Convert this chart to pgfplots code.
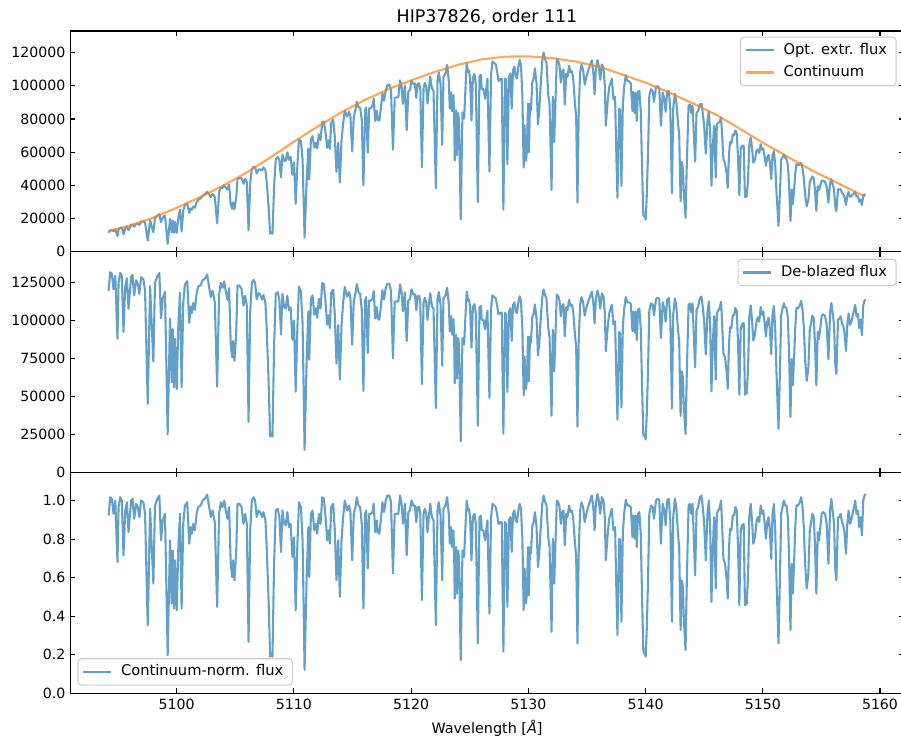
\documentclass[border=0pt]{standalone}
\usepackage{fontspec}
\setmainfont{DejaVu Sans}
\usepackage{pgfplots}
\usepackage{pgfplotstable}
\pgfplotsset{compat=1.18}
\definecolor{mplblue}{RGB}{31,119,180}
\definecolor{mplorange}{RGB}{255,127,14}
\definecolor{legendedge}{RGB}{204,204,204}

\pgfplotstableread{
x top mid norm
5094.19 11400 119300 0.922
5094.33 12900 131600 1.017
5094.47 13100 130500 1.009
5094.61 12300 120400 0.931
5094.76 13500 129200 1.000
5094.95 9500 87900 0.681
5095.04 13500 124700 0.966
5095.18 14500 131200 1.017
5095.32 14500 129000 1.000
5095.46 10600 92300 0.716
5095.61 14300 122200 0.948
5095.75 15200 127600 0.991
5095.89 13000 107600 0.836
5095.97 14100 115400 0.897
5096.12 16100 128600 1.000
5096.23 16400 129800 1.009
5096.37 15100 116300 0.905
5096.54 16800 126300 0.983
5096.68 16800 124000 0.966
5096.82 16200 117400 0.914
5096.96 18100 128300 1.000
5097.16 18300 127000 0.991
5097.30 17600 119400 0.931
5097.53 6800 45200 0.353
5097.73 19000 122500 0.957
5097.87 15300 97200 0.759
5098.01 11700 72800 0.569
5098.15 20500 124600 0.974
5098.35 21800 129000 1.009
5098.52 22700 131000 1.026
5098.66 17800 101300 0.793
5098.81 20500 114500 0.897
5099.00 21900 118700 0.931
5099.23 4800 25200 0.198
5099.43 19700 101000 0.793
5099.57 11700 59300 0.466
5099.66 18900 94300 0.741
5099.77 11400 56000 0.440
5099.85 18000 87800 0.690
5100.00 11400 54800 0.431
5100.14 20500 96500 0.759
5100.28 25500 118200 0.931
5100.42 12300 55900 0.440
5100.56 24900 111500 0.879
5100.70 28100 123500 0.974
5100.90 29100 125700 0.991
5101.07 23300 98300 0.776
5101.19 26200 109100 0.862
5101.30 25400 104800 0.828
5101.41 27300 111300 0.879
5101.55 26600 106900 0.845
5101.70 29800 117800 0.931
5101.84 31400 122100 0.966
5102.04 32200 123000 0.974
5102.21 33700 126300 1.000
5102.40 34700 127300 1.009
5102.60 36200 130000 1.031
5102.77 34500 121700 0.966
5102.91 33100 115200 0.914
5103.06 34800 119400 0.948
5103.25 33200 111700 0.888
5103.45 17100 56400 0.448
5103.62 36000 117000 0.931
5103.76 38800 124600 0.991
5103.91 38400 121300 0.966
5104.05 40200 125500 1.000
5104.19 38700 119000 0.948
5104.33 37400 113500 0.905
5104.47 40500 121100 0.966
5104.61 28500 84200 0.672
5104.73 25900 75600 0.603
5104.81 29800 86400 0.690
5104.93 25600 73400 0.586
5105.08 32800 92600 0.741
5105.19 43800 122900 0.983
5105.36 44500 122800 0.983
5105.53 44400 120600 0.966
5105.70 41000 109700 0.879
5105.84 43900 116100 0.931
5105.98 42000 109600 0.879
5106.13 12900 33300 0.267
5106.27 41400 105300 0.845
5106.41 49700 124600 1.000
5106.55 51200 126600 1.017
5106.69 50900 124500 1.000
5106.83 47200 113700 0.914
5106.98 49500 117900 0.948
5107.12 49700 116800 0.940
5107.29 49000 113600 0.914
5107.40 50900 116700 0.940
5107.57 49200 111400 0.897
5107.68 42000 94200 0.759
5107.83 28100 62100 0.500
5107.97 10800 23600 0.190
5108.05 11800 25700 0.207
5108.17 10900 23600 0.190
5108.31 39200 83300 0.672
5108.45 55800 117500 0.948
5108.62 57200 118500 0.957
5108.76 55200 113200 0.914
5108.90 44800 90700 0.733
5109.02 58500 117300 0.948
5109.16 54800 108600 0.879
5109.30 54900 107700 0.871
5109.44 59900 116100 0.940
5109.58 55400 106500 0.862
5109.72 57100 108500 0.879
5109.87 46400 87200 0.707
5110.01 53800 99900 0.810
5110.15 28900 53100 0.431
5110.29 51300 93500 0.759
5110.43 67700 122100 0.991
5110.60 66700 118900 0.966
5110.74 55300 97600 0.793
5110.91 8500 14900 0.121
5111.08 41700 72100 0.586
5111.23 62000 105900 0.862
5111.31 43500 74100 0.603
5111.45 67800 114300 0.931
5111.59 69700 116400 0.948
5111.74 62700 103700 0.845
5111.88 65700 107900 0.879
5111.99 62300 101600 0.828
5112.13 70700 114100 0.931
5112.27 67200 107800 0.879
5112.42 78400 124600 1.017
5112.56 78400 123600 1.009
5112.70 71600 111900 0.914
5112.84 62600 97100 0.793
5112.98 67200 103300 0.845
5113.07 62000 94900 0.776
5113.18 77600 118100 0.966
5113.35 79700 120100 0.983
5113.49 69000 103300 0.845
5113.63 48200 71600 0.586
5113.78 65700 96800 0.793
5113.92 41800 61000 0.500
5114.06 66700 96700 0.793
5114.20 77300 111400 0.914
5114.34 85100 121900 1.000
5114.54 81400 115500 0.948
5114.71 84300 118600 0.974
5114.82 81700 114400 0.940
5114.97 60400 84000 0.690
5115.11 81900 113200 0.931
5115.25 85500 117500 0.966
5115.37 90400 123800 1.017
5115.51 87100 118500 0.974
5115.65 86800 117500 0.966
5115.79 79500 106900 0.879
5115.93 40000 53500 0.440
5116.08 85200 113100 0.931
5116.16 87000 115200 0.948
5116.30 59700 78500 0.647
5116.42 86200 113000 0.931
5116.56 86700 112900 0.931
5116.70 87900 114000 0.940
5116.81 92300 119200 0.983
5116.93 78800 101300 0.836
5117.07 85000 108700 0.897
5117.15 79400 101300 0.836
5117.29 79100 100300 0.828
5117.44 87700 110700 0.914
5117.55 95400 119900 0.991
5117.69 91000 113700 0.940
5117.83 97200 120900 1.000
5117.97 100200 124000 1.026
5118.14 100800 123900 1.026
5118.28 97700 119600 0.991
5118.45 61500 75000 0.621
5118.60 92600 112400 0.931
5118.77 93000 112300 0.931
5118.91 93400 112300 0.931
5119.05 103300 123600 1.026
5119.19 99400 118500 0.983
5119.30 89100 105900 0.879
5119.47 100200 118400 0.983
5119.62 73200 86200 0.716
5119.76 96400 113100 0.940
5119.90 97600 114000 0.948
5120.04 103400 120300 1.000
5120.18 101100 117100 0.974
5120.32 101400 117100 0.974
5120.44 92700 106700 0.888
5120.55 101100 116000 0.966
5120.69 101500 116000 0.966
5120.78 98000 111800 0.931
5120.92 51000 58000 0.483
5121.06 98700 111700 0.931
5121.17 101700 114800 0.957
5121.29 99200 111600 0.931
5121.40 89300 100200 0.836
5121.51 97900 109600 0.914
5121.63 105600 117800 0.983
5121.77 98500 109500 0.914
5121.91 97000 107500 0.897
5122.11 38300 42300 0.353
5122.25 103200 113500 0.948
5122.36 108100 118500 0.991
5122.51 101000 110300 0.922
5122.65 64300 70100 0.586
5122.76 105300 114400 0.957
5122.93 107500 116400 0.974
5123.07 112600 121400 1.017
5123.21 103300 111200 0.931
5123.30 86200 92700 0.776
5123.41 96000 102800 0.862
5123.50 84700 90500 0.759
5123.61 94500 100800 0.845
5123.67 82000 87400 0.733
5123.72 55000 58600 0.491
5123.84 85200 90500 0.759
5123.92 58200 61600 0.517
5124.01 83500 88300 0.741
5124.09 78700 83200 0.698
5124.23 19500 20500 0.172
5124.38 84000 88300 0.741
5124.52 80200 84100 0.707
5124.66 102000 106700 0.897
5124.74 113900 119000 1.000
5124.86 108200 112800 0.948
5124.94 109300 113800 0.957
5125.03 104500 108700 0.914
5125.15 79000 82000 0.690
5125.27 104800 108700 0.914
5125.41 107000 110600 0.931
5125.52 101200 104400 0.879
5125.69 29900 30700 0.259
5125.83 105700 108500 0.914
5125.95 106700 109400 0.922
5126.03 97900 100200 0.845
5126.17 98000 100200 0.845
5126.31 92100 94000 0.793
5126.51 104300 106300 0.897
5126.68 48200 49100 0.414
5126.82 106600 108200 0.914
5126.94 114700 116400 0.983
5127.08 113800 115300 0.974
5127.22 112900 114400 0.966
5127.33 108900 110100 0.931
5127.45 102900 104000 0.879
5127.62 104100 105000 0.888
5127.73 104200 105000 0.888
5127.87 25400 25500 0.216
5128.01 104300 104900 0.888
5128.10 103400 103800 0.879
5128.21 52700 52900 0.448
5128.35 105500 105800 0.897
5128.47 107500 107900 0.914
5128.58 86200 86500 0.733
5128.69 109500 109800 0.931
5128.81 111500 111800 0.948
5128.92 105500 105800 0.897
5129.03 104400 104700 0.888
5129.15 111500 111700 0.948
5129.26 115600 115800 0.983
5129.37 112600 112700 0.957
5129.49 94400 94400 0.802
5129.60 50700 50700 0.431
5129.68 76200 76200 0.647
5129.80 54800 54800 0.466
5129.88 60900 60800 0.517
5129.97 89300 89300 0.759
5130.05 59900 59900 0.509
5130.14 89300 89300 0.759
5130.22 85100 85100 0.724
5130.34 102400 102300 0.871
5130.45 104300 104300 0.888
5130.56 110500 110400 0.940
5130.70 101200 101200 0.862
5130.82 76800 76900 0.655
5130.93 84900 84900 0.724
5131.04 99000 99100 0.845
5131.19 115100 115300 0.983
5131.30 120000 120200 1.026
5131.44 115800 116100 0.991
5131.55 113900 114100 0.974
5131.70 94600 94900 0.810
5131.81 88600 88900 0.759
5131.98 37200 37300 0.319
5132.09 93500 93800 0.802
5132.21 66300 66500 0.569
5132.32 92300 92700 0.793
5132.43 116300 116900 1.000
5132.55 115100 115700 0.991
5132.66 112100 112800 0.966
5132.77 101900 102600 0.879
5132.89 108900 109700 0.940
5133.00 109700 110600 0.948
5133.11 88700 89400 0.767
5133.23 107400 108600 0.931
5133.34 105400 106600 0.914
5133.48 112200 113500 0.974
5133.59 108100 109500 0.940
5133.71 108900 110300 0.948
5133.82 104900 106400 0.914
5133.96 91000 92300 0.793
5134.08 81000 82200 0.707
5134.19 29600 30100 0.259
5134.30 85700 87200 0.750
5134.42 108100 110200 0.948
5134.53 112800 115200 0.991
5134.67 109700 112200 0.966
5134.81 100700 103100 0.888
5134.95 105400 108000 0.931
5135.10 109100 112100 0.966
5135.28 112700 115900 1.000
5135.42 115400 118900 1.026
5135.56 106500 109900 0.948
5135.65 94700 97900 0.845
5135.76 110100 113800 0.983
5135.90 115500 119600 1.034
5136.01 111500 115700 1.000
5136.13 103600 107700 0.931
5136.27 112900 117600 1.017
5136.41 110700 115600 1.000
5136.52 100900 105600 0.914
5136.61 76000 79700 0.690
5136.75 89000 93600 0.810
5136.89 99100 104400 0.905
5137.12 104300 110300 0.957
5137.26 91800 97300 0.845
5137.40 93400 99300 0.862
5137.49 63300 67500 0.586
5137.60 32600 34800 0.302
5137.75 86200 92300 0.802
5137.83 85100 91200 0.793
5137.94 39700 42700 0.371
5138.06 88300 95200 0.828
5138.17 99200 107000 0.931
5138.31 106400 115200 1.003
5138.45 103000 111800 0.974
5138.60 102700 111800 0.974
5138.74 101400 110800 0.966
5138.88 84800 92900 0.810
5138.96 96300 105800 0.922
5139.08 83600 91900 0.802
5139.16 95900 105700 0.922
5139.25 78800 87000 0.759
5139.36 96400 106600 0.931
5139.47 97000 107600 0.940
5139.59 85200 94700 0.828
5139.70 51300 57200 0.500
5139.81 22100 24700 0.216
5139.93 21100 23700 0.207
5140.01 19400 21700 0.190
5140.10 33300 37500 0.328
5140.21 59400 66900 0.586
5140.32 94000 106300 0.931
5140.46 98000 111100 0.974
5140.61 96700 110200 0.966
5140.72 90300 103200 0.905
5140.89 99300 114000 1.000
5141.03 99800 114900 1.009
5141.17 98400 113900 1.000
5141.31 76000 88300 0.776
5141.46 95900 111900 0.983
5141.60 92100 107800 0.948
5141.71 84300 99000 0.871
5141.85 96400 113700 1.000
5141.99 96900 114600 1.009
5142.11 85800 101900 0.897
5142.25 35300 42100 0.371
5142.36 86600 103700 0.914
5142.50 95200 114400 1.009
5142.62 90800 109500 0.966
5142.73 80700 97800 0.862
5142.87 69900 85000 0.750
5142.99 30400 37200 0.328
5143.10 54100 66400 0.586
5143.18 50900 62500 0.552
5143.27 34800 42900 0.379
5143.41 20500 25300 0.224
5143.52 53300 66300 0.586
5143.67 88200 110200 0.974
5143.78 88700 111100 0.983
5143.89 83600 105200 0.931
5144.01 88000 111000 0.983
5144.12 70700 89500 0.793
5144.23 54300 69100 0.612
5144.35 83700 106900 0.948
5144.49 84800 109000 0.966
5144.63 88800 114600 1.017
5144.77 89100 115600 1.026
5144.88 83500 108800 0.966
5145.00 75600 99000 0.879
5145.14 59000 77600 0.690
5145.28 79300 104700 0.931
5145.40 84700 112500 1.000
5145.51 72700 96900 0.862
5145.62 39800 53300 0.474
5145.74 63400 85300 0.759
5145.85 76000 102700 0.914
5145.99 44900 61000 0.543
5146.08 76700 104600 0.931
5146.19 77700 106500 0.948
5146.30 78000 107500 0.957
5146.44 80900 112200 1.000
5146.53 70800 98600 0.879
5146.64 55800 78300 0.698
5146.78 53400 75400 0.672
5146.93 46200 65700 0.586
5147.01 38500 55000 0.491
5147.12 59200 85100 0.759
5147.21 66200 95600 0.853
5147.32 65200 94700 0.845
5147.44 70700 103300 0.922
5147.55 70300 103300 0.922
5147.66 73100 108200 0.966
5147.78 71300 106200 0.948
5147.89 56700 85000 0.759
5148.00 34000 51100 0.457
5148.12 62400 94600 0.845
5148.23 63800 97500 0.871
5148.37 63900 98400 0.879
5148.48 33000 51100 0.457
5148.63 33400 52100 0.466
5148.74 42900 67400 0.603
5148.85 64600 102200 0.914
5148.97 68900 109800 0.983
5149.08 62500 100200 0.897
5149.19 53700 86700 0.776
5149.33 55600 90500 0.810
5149.48 61000 100100 0.897
5149.59 61700 102000 0.914
5149.70 59500 99100 0.888
5149.82 64800 108700 0.974
5149.93 61500 103800 0.931
5150.04 62200 105700 0.948
5150.15 57800 99000 0.888
5150.27 51800 89400 0.802
5150.38 57000 99000 0.888
5150.49 58300 101800 0.914
5150.61 53500 94100 0.845
5150.72 43800 77800 0.698
5150.83 58100 103700 0.931
5150.95 60800 109400 0.983
5151.06 52000 94000 0.845
5151.17 35700 65200 0.586
5151.34 15600 28800 0.259
5151.46 35100 65200 0.586
5151.57 55300 103500 0.931
5151.68 57000 107400 0.966
5151.80 58500 111200 1.000
5151.91 56600 108300 0.974
5152.02 56100 108200 0.974
5152.14 52300 101500 0.914
5152.25 39100 76700 0.690
5152.36 18500 36400 0.328
5152.48 37500 74600 0.672
5152.56 28700 57400 0.517
5152.68 38000 76600 0.690
5152.76 46200 93800 0.845
5152.87 52800 108100 0.974
5153.02 52200 108000 0.974
5153.16 52600 109900 0.991
5153.27 53500 112800 1.017
5153.38 50800 108000 0.974
5153.50 44600 95500 0.862
5153.61 34500 74500 0.672
5153.75 27500 60200 0.543
5153.89 31200 68800 0.621
5154.01 42000 93600 0.845
5154.12 43700 98300 0.888
5154.23 45400 103100 0.931
5154.35 44200 101200 0.914
5154.46 36400 84000 0.759
5154.57 24600 57200 0.517
5154.69 39500 92500 0.836
5154.80 37100 87700 0.793
5154.91 40000 95300 0.862
5155.03 42800 103000 0.931
5155.14 42900 104000 0.940
5155.31 42100 102900 0.931
5155.45 39300 97100 0.879
5155.60 29600 74300 0.672
5155.74 41300 104800 0.948
5155.85 43700 111400 1.009
5155.96 40700 104700 0.948
5156.08 37400 97000 0.879
5156.19 26900 70400 0.638
5156.28 24500 64700 0.586
5156.42 37700 100800 0.914
5156.53 37400 100800 0.914
5156.64 37700 102700 0.931
5156.76 35600 97900 0.888
5156.87 34600 96100 0.871
5156.98 32500 91200 0.828
5157.10 28200 79800 0.724
5157.21 33800 96900 0.879
5157.32 36100 104500 0.948
5157.44 33100 96900 0.879
5157.55 33500 98800 0.897
5157.66 34400 102500 0.931
5157.78 35300 106400 0.966
5157.89 36100 110100 1.000
5158.00 33200 102500 0.931
5158.12 33500 104300 0.948
5158.23 30100 94800 0.862
5158.34 31600 100500 0.914
5158.46 28100 90100 0.819
5158.57 33900 109900 1.000
5158.68 34500 112800 1.026
5158.77 34400 113600 1.034
}\spec

\pgfplotstableread{
x c
5094.17 12400
5095.99 15800
5097.99 20500
5100.00 26500
5102.01 33000
5104.01 40000
5106.02 48000
5108.03 57000
5110.04 66500
5112.04 75500
5114.05 84000
5116.06 91500
5118.07 98000
5120.07 103500
5122.08 108500
5124.09 112800
5126.10 116000
5128.10 117600
5130.11 117700
5132.12 116600
5134.12 114500
5136.13 111300
5138.14 106500
5140.15 101500
5142.15 95500
5144.16 89000
5146.17 82000
5148.18 73500
5150.18 65000
5152.19 57000
5154.20 49000
5156.21 42000
5158.21 35000
5158.77 33300
}\cont

\pgfplotsset{
  panel/.style={
    scale only axis, width=599.8bp, height=158.95bp,
    xmin=5090.94, xmax=5162.01, ymin=0,
    xtick={5100,5110,5120,5130,5140,5150,5160},
    tick align=inside, xtick pos=both, ytick pos=both,
    major tick length=3.5bp,
    tick style={black, line width=0.8bp},
    axis line style={black, line width=0.8bp},
    scaled y ticks=false, scaled x ticks=false,
    /pgf/number format/assume math mode=true,
    /pgf/number format/fixed,
    /pgf/number format/1000 sep={},
    tick label style={font=\fontsize{10.2}{12}\selectfont, inner sep=0pt, text height=7.4bp, text depth=0pt},
    yticklabel style={xshift=-3.5bp},
    xticklabel style={yshift=-4.2bp},
    legend cell align=left,
    legend image code/.code={\draw[#1] (0bp,0bp) -- (20bp,0bp);},
    legend style={draw=legendedge, line width=0.8bp, rounded corners=2.5bp, fill=white, fill opacity=0.8, text opacity=1, draw opacity=1, inner xsep=3bp, inner ysep=2bp, row sep=1bp, font=\fontsize{10.6}{12}\selectfont, nodes={inner xsep=3.5bp, inner ysep=2.5bp, text height=7.8bp, text depth=2.2bp}, /tikz/every odd column/.append style={column sep=3bp}},
    every axis title/.style={at={(0.5,1)}, anchor=base, yshift=5.8bp, inner sep=0pt, font=\fontsize{12.6}{14}\selectfont},
  },
  specstyle/.style={mplblue, draw opacity=0.7, line width=1.5bp, line join=round, mark=none},
  contstyle/.style={mplorange, draw opacity=0.7, line width=1.5bp, line join=round, mark=none},
}

\begin{document}
\begin{tikzpicture}

\begin{axis}[panel, at={(0,317.9bp)}, ymax=133000,
  ytick={0,20000,40000,60000,80000,100000,120000}, xticklabels={},
  title={HIP37826, order 111},
  legend style={at={(1,1)}, anchor=north east, xshift=-5bp, yshift=-4bp}]
\addplot[specstyle] table[x=x, y=top] {\spec};
\addlegendentry{Opt. extr. flux}
\addplot[contstyle] table[x=x, y=c] {\cont};
\addlegendentry{Continuum}
\end{axis}

\begin{axis}[panel, at={(0,158.95bp)}, ymax=145000,
  ytick={0,25000,50000,75000,100000,125000}, xticklabels={},
  legend style={at={(1,1)}, anchor=north east, xshift=-5bp, yshift=-5bp}]
\addplot[specstyle] table[x=x, y=mid] {\spec};
\addlegendentry{De-blazed flux}
\end{axis}

\begin{axis}[panel, at={(0,0)}, ymax=1.145,
  ytick={0,0.2,0.4,0.6,0.8,1.0},
  yticklabel style={/pgf/number format/.cd, fixed, fixed zerofill, precision=1},
  xlabel={Wavelength [\textit{Å}]},
  xlabel style={font=\fontsize{10.4}{12}\selectfont, at={(axis description cs:0.5,0)}, anchor=base, yshift=-28.9bp, inner sep=0pt},
  legend style={at={(0,0)}, anchor=south west, xshift=5bp, yshift=5.5bp}]
\addplot[specstyle] table[x=x, y=norm] {\spec};
\addlegendentry{Continuum-norm. flux}
\end{axis}

\pgfresetboundingbox
\path[use as bounding box] (-50.76bp,-32.18bp) rectangle (597.96bp,499.18bp);
\end{tikzpicture}
\end{document}
